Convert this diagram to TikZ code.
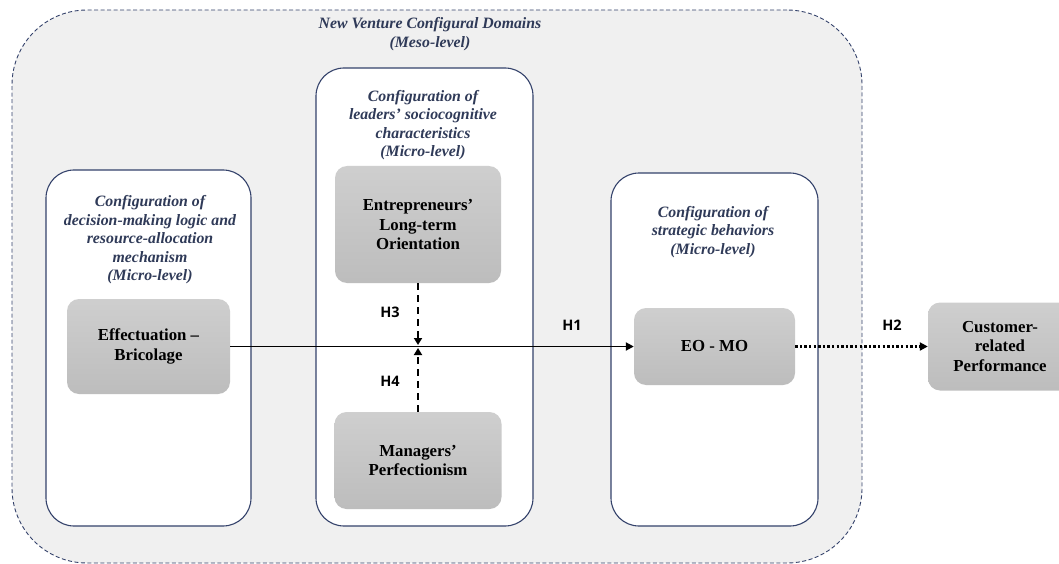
\documentclass[tikz,border=0pt]{standalone}
\usepackage{fontspec}
\setmainfont{Liberation Serif}
\newfontfamily\hfont{Open Sans}
\usetikzlibrary{arrows.meta}
\definecolor{navy}{HTML}{34426B}
\definecolor{headtxt}{HTML}{2F3A58}
\definecolor{domfill}{HTML}{F0F0F0}
\begin{document}
\begin{tikzpicture}[x=1pt, y=-1pt, every node/.style={font=\bfseries\fontsize{16.8}{19.5}\selectfont}]
  \tikzstyle{mesobox}=[draw=navy,line width=0.9pt,dash pattern=on 4pt off 2.5pt,fill=domfill,rounded corners=75pt,inner sep=0pt]
  \tikzstyle{config}=[draw=navy,line width=1.1pt,fill=white,rounded corners=28pt,inner sep=0pt]
  \tikzstyle{construct}=[rounded corners=12pt,top color=gray!38,bottom color=gray!52,align=center,inner sep=0pt]
  \tikzstyle{heading}=[align=center,text=headtxt,font=\bfseries\itshape\fontsize{15.8}{18.5}\selectfont]
  \tikzstyle{hyp}=[font=\hfont\bfseries\fontsize{14.5}{16}\selectfont]
  \useasboundingbox (0,0) rectangle (1059,564);
  % containers
  \node[mesobox,minimum width=850pt,minimum height=553pt] (meso) at (437,286.5) {};
  \node[config,minimum width=205pt,minimum height=356pt] (left) at (148.5,348) {};
  \node[config,minimum width=217pt,minimum height=458pt] (mid) at (424.5,297) {};
  \node[config,minimum width=207pt,minimum height=353pt] (right) at (714.5,349.5) {};
  \node[heading] (t0) at (430,34) {New Venture Configural Domains\\(Meso-level)};
  \node[heading] (t1) at (150,240) {Configuration of\\decision-making logic and\\resource-allocation\\mechanism\\(Micro-level)};
  \node[heading] (t2) at (423,125) {Configuration of\\leaders' sociocognitive\\characteristics\\(Micro-level)};
  \node[heading] (t3) at (713,232) {Configuration of\\strategic behaviors\\(Micro-level)};
  % constructs
  \node[construct,minimum width=163pt,minimum height=95pt] (eff) at (148.5,346.5) {Effectuation --\\Bricolage};
  \node[construct,minimum width=166pt,minimum height=117pt] (lto) at (418,224.5) {Entrepreneurs'\\Long-term\\Orientation};
  \node[construct,minimum width=167pt,minimum height=97pt] (perf) at (418,460.5) {Managers'\\Perfectionism};
  \node[construct,minimum width=161pt,minimum height=77pt] (eomo) at (714.5,346.5) {EO - MO};
  \node[construct,minimum width=144pt,minimum height=88pt] (cust) at (1000,346.5) {Customer-\\related\\Performance};
  \coordinate (mod) at (418,346.5);
  % hypotheses
  \draw[-{Triangle[length=8pt,width=8pt]},line width=1.9pt] (eff) -- (eomo);
  \draw[-{Triangle[length=8pt,width=8pt]},line width=2.4pt,dash pattern=on 2.4pt off 2.2pt] (eomo) -- (cust);
  \draw[-{Triangle[length=7pt,width=8pt]},line width=2.2pt,dash pattern=on 7pt off 5pt,shorten >=1.5pt] (lto) -- (mod);
  \draw[-{Triangle[length=7pt,width=8pt]},line width=2.2pt,dash pattern=on 7pt off 5pt,shorten >=1.5pt] (perf) -- (mod);
  \node[hyp] (h3) at (390,312) {H3};
  \node[hyp] (h4) at (390,381) {H4};
  \node[hyp] (h1) at (572,325) {H1};
  \node[hyp] (h2) at (892,325) {H2};
\end{tikzpicture}
\end{document}
